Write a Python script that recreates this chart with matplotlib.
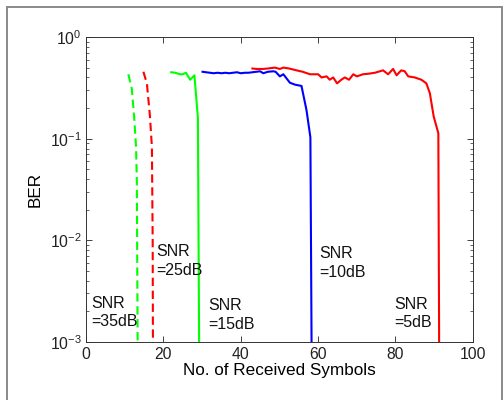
import matplotlib.pyplot as plt
from matplotlib.patches import Rectangle

plt.rcParams['font.family'] = ['Liberation Sans', 'DejaVu Sans']
plt.rcParams['mathtext.fontset'] = 'custom'
plt.rcParams['mathtext.rm'] = 'Liberation Sans'

# BER vs number of received symbols
x35 = [10.9, 11.8, 12.4, 12.9, 13.1, 13.3, 13.5]
y35 = [0.43, 0.31, 0.165, 0.083, 0.039, 0.0012, 1e-5]

x25 = [14.8, 15.7, 16.5, 17.0, 17.2, 17.4]
y25 = [0.455, 0.35, 0.165, 0.083, 0.01, 1e-5]

x15 = [22.0, 23.0, 24.3, 25.0, 25.8, 26.9, 28.0, 28.9, 29.5]
y15 = [0.45, 0.445, 0.43, 0.43, 0.445, 0.38, 0.42, 0.16, 1e-5]

x10 = [30.1, 31, 32, 33, 34, 35, 36, 37, 38, 39, 40, 41, 42, 43, 44,
       45, 45.8, 47, 48.4, 49, 50.1, 51, 52.7, 54, 55.7, 57.0, 58.0, 58.6]
y10 = [0.455, 0.45, 0.445, 0.44, 0.445, 0.44, 0.445, 0.44, 0.445, 0.45,
       0.44, 0.445, 0.445, 0.45, 0.455, 0.46, 0.44, 0.455, 0.46, 0.455,
       0.41, 0.43, 0.355, 0.34, 0.33, 0.19, 0.103, 1e-5]

x5 = [43.0, 44, 45.8, 47, 48.8, 50.1, 51, 52.5, 54.4, 56, 57.9, 60.0,
      60.9, 62.2, 63.0, 63.9, 64.9, 66.0, 66.9, 68.0, 69.1, 70.0, 71.6,
      73, 74.7, 76.8, 78.1, 79.4, 80.3, 81.5, 82.4, 83.3, 85.0, 86.7,
      88.0, 88.9, 89.9, 91.1, 91.5]
y5 = [0.49, 0.485, 0.485, 0.49, 0.50, 0.485, 0.50, 0.49, 0.47, 0.455,
      0.43, 0.43, 0.40, 0.41, 0.38, 0.40, 0.35, 0.38, 0.40, 0.38, 0.43,
      0.41, 0.43, 0.435, 0.445, 0.47, 0.43, 0.485, 0.42, 0.47, 0.46,
      0.41, 0.40, 0.38, 0.35, 0.28, 0.165, 0.113, 1e-5]

labels = ['SNR\n=35dB', 'SNR\n=25dB', 'SNR\n=15dB', 'SNR\n=10dB', 'SNR\n=5dB']
label_x = [1.2, 18.1, 31.6, 60.3, 79.8]
label_y = [1.95e-3, 6.3e-3, 1.85e-3, 6.0e-3, 1.9e-3]

fig = plt.figure(figsize=(5.04, 4.0), dpi=100)
ax = fig.add_axes([0.171, 0.145, 0.767, 0.7625])

lw = 1.5
ax.plot(x35, y35, color='#00ff00', lw=lw, linestyle=(0, (4, 2.2)))
ax.plot(x25, y25, color='#ff0000', lw=lw, linestyle=(0, (4, 2.2)))
ax.plot(x15, y15, color='#00ff00', lw=lw)
ax.plot(x10, y10, color='#0000ff', lw=lw)
ax.plot(x5, y5, color='#ff0000', lw=lw)

for t, lx, ly in zip(labels, label_x, label_y):
    ax.text(lx, ly, t, fontsize=11.5, va='center', ha='left',
            linespacing=1.3, color='#111111')

ax.set_yscale('log')
ax.set_xlim(0, 100)
ax.set_ylim(1e-3, 1)
ax.set_xticks([0, 20, 40, 60, 80, 100])
ax.set_xlabel('No. of Received Symbols', fontsize=12.3, labelpad=1)
ax.set_ylabel('BER', fontsize=12.3, labelpad=5)
ax.tick_params(which='both', direction='in', top=True, right=True,
               labelsize=11.3, colors='#222222')
ax.tick_params(which='major', length=4, width=0.6)
ax.tick_params(which='minor', length=2.2, width=0.5)
ax.tick_params(axis='x', which='minor', bottom=False, top=False)
for s in ax.spines.values():
    s.set_linewidth(0.7)
    s.set_color('#333333')

# light grey frame around the figure
fig.patches.append(Rectangle((7 / 504, -0.02), 495 / 504, 1 - 7 / 400 + 0.02,
                             transform=fig.transFigure, fill=False,
                             edgecolor='#8a8a8a', lw=1.4))

fig.savefig('out.png', dpi=100)
